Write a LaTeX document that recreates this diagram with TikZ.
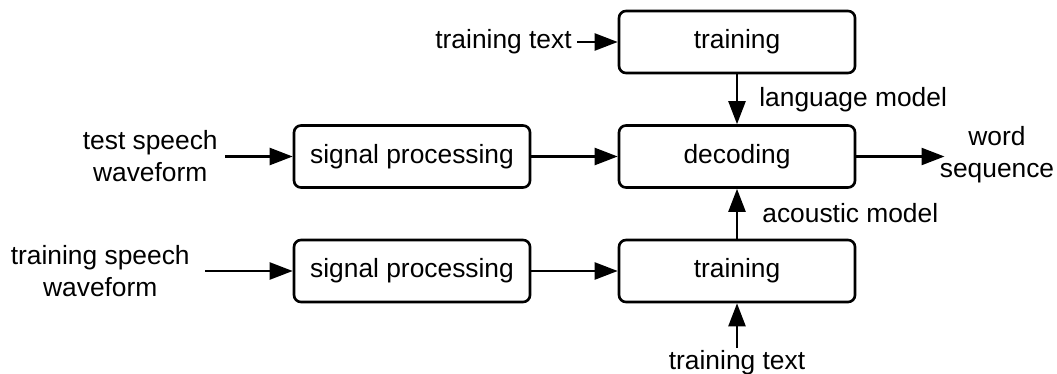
\documentclass[tikz,border=0pt]{standalone}
\usepackage{fontspec}
\setmainfont{Liberation Sans}
\usetikzlibrary{positioning,arrows.meta}

\begin{document}
\begin{tikzpicture}[
    block/.style={draw, line width=1.5pt, rounded corners=0.14cm, minimum width=4.72cm,
                  minimum height=1.24cm, align=center, inner sep=0pt,
                  font=\fontsize{15}{18.2}\selectfont},
    lbl/.style={align=center, inner sep=0pt, font=\fontsize{15}{18.2}\selectfont},
    flow/.style={-{Triangle[length=0.46cm,width=0.34cm]}, line width=1.35pt},
]
\useasboundingbox (0,0) rectangle (21.14,-7.48);

% Processing blocks
\node[block] (lmtrain) at (14.74,-0.84) {training};
\node[block] (decode)  at (14.74,-3.13) {decoding};
\node[block] (amtrain) at (14.74,-5.42) {training};
\node[block] (sigtest) at (8.24,-3.13)  {signal processing};
\node[block] (sigtrain) at (8.24,-5.42) {signal processing};

% Inputs and output
\node[lbl, anchor=east, inner xsep=0.1cm] (lmtext) at (11.54,-0.84) {training text};
\node[lbl, anchor=east, inner xsep=0.14cm] (testwave) at (4.50,-3.13) {test speech\\waveform};
\node[lbl, anchor=east, inner xsep=0.3cm] (trainwave) at (4.10,-5.42) {training speech\\waveform};
\node[lbl, anchor=north, inner ysep=0.04cm] (amtext) at (14.74,-6.96) {training text};
\node[lbl, inner xsep=-0.1cm] (words) at (19.94,-3.10) {word\\sequence};

% Model labels beside the vertical arrows
\node[lbl, anchor=west] (lmname) at (15.18,-2.00) {language model};
\node[lbl, anchor=west] (amname) at (15.24,-4.26) {acoustic model};

% Connections
\draw[flow] (lmtext) -- (lmtrain);
\draw[flow] (lmtrain) -- (decode);
\draw[flow] (amtrain) -- (decode);
\draw[flow] (amtext) -- (amtrain);
\draw[flow] (testwave) -- (sigtest);
\draw[flow] (sigtest) -- (decode);
\draw[flow] (trainwave) -- (sigtrain);
\draw[flow] (sigtrain) -- (amtrain);
\draw[flow] (decode) -- (words.west |- decode.east);
\end{tikzpicture}
\end{document}
